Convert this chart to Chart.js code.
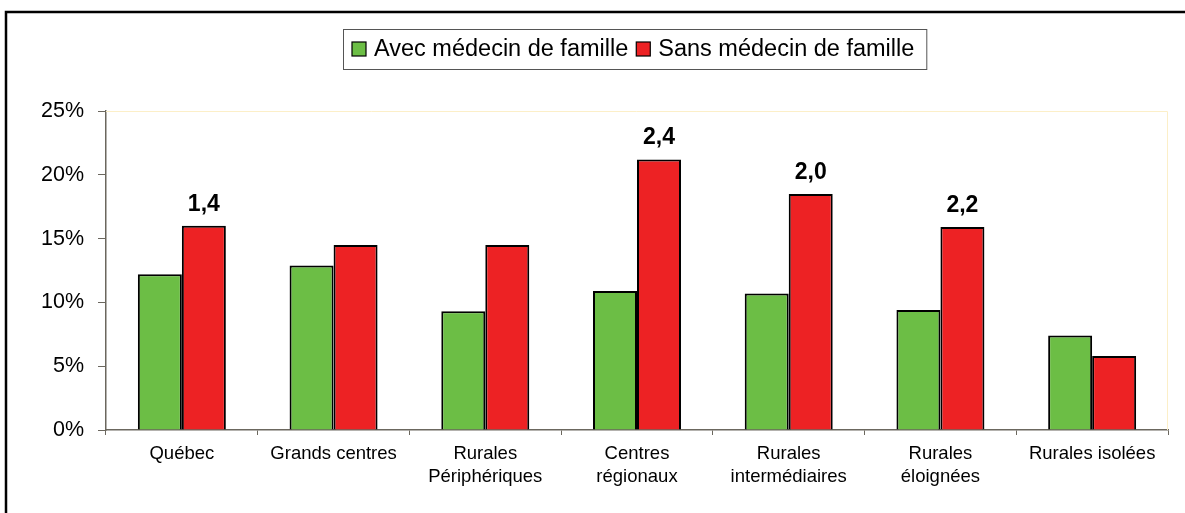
<!DOCTYPE html>
<html>
<head>
<meta charset="utf-8">
<script src="https://cdn.jsdelivr.net/npm/chart.js@4"></script>
<style>
  html, body { margin: 0; padding: 0; background: #fff; }
  #wrap { width: 1185px; height: 513px; }
</style>
</head>
<body>
<div id="wrap"><canvas id="myChart" width="1185" height="513"></canvas></div>
<script>
// categories and values
const categories = [
    'Québec',
    'Grands centres',
    ['Rurales', 'Périphériques'],
    ['Centres', 'régionaux'],
    ['Rurales', 'intermédiaires'],
    ['Rurales', 'éloignées'],
    'Rurales isolées'
];
const avecMedecin = [12.2, 12.9, 9.3, 10.9, 10.7, 9.4, 7.4];
const sansMedecin = [16.0, 14.5, 14.5, 21.2, 18.5, 15.9, 5.8];
const ratioLabels = ['1,4', '', '', '2,4', '2,0', '2,2', ''];
const yTicks = [0, 5, 10, 15, 20, 25];

const greenColor = '#6CBE45';
const redColor = '#ED2224';
const axisColor = '#6B675E';
const font = '"Liberation Sans", Arial, sans-serif';

// frame, plot border, legend and ratio labels
const decorPlugin = {
    id: 'decor',
    beforeDatasetsDraw(chart) {
        const ctx = chart.ctx;
        const a = chart.chartArea;
        ctx.save();
        ctx.strokeStyle = '#FCEFC8';
        ctx.lineWidth = 1;
        ctx.beginPath();
        ctx.moveTo(a.left, a.top + 0.5);
        ctx.lineTo(a.right - 0.5, a.top + 0.5);
        ctx.lineTo(a.right - 0.5, a.bottom);
        ctx.stroke();
        ctx.restore();
    },
    afterDraw(chart) {
        const ctx = chart.ctx;
        ctx.save();
        // outer frame (only left and top visible)
        ctx.strokeStyle = '#000';
        ctx.lineWidth = 2.5;
        ctx.strokeRect(6, 12, 1200, 520);

        // ratio labels above red bars
        const meta = chart.getDatasetMeta(1);
        ctx.fillStyle = '#000';
        ctx.font = 'bold 23px ' + font;
        ctx.textAlign = 'center';
        ctx.textBaseline = 'alphabetic';
        meta.data.forEach((bar, i) => {
            if (ratioLabels[i]) {
                ctx.fillText(ratioLabels[i], bar.x, bar.y - 15);
            }
        });

        // legend with box
        ctx.font = '23.5px ' + font;
        ctx.textAlign = 'left';
        ctx.textBaseline = 'middle';
        const sets = chart.data.datasets;
        const boxLeft = 343, boxTop = 29, boxH = 40;
        let x = boxLeft + 9;
        const cy = boxTop + boxH / 2;
        const items = [];
        sets.forEach(ds => {
            items.push({ x: x, ds: ds });
            x += 14 + 8 + ctx.measureText(ds.label).width + 8;
        });
        const boxRight = x + 4;
        ctx.fillStyle = '#fff';
        ctx.fillRect(boxLeft, boxTop, boxRight - boxLeft, boxH);
        ctx.strokeStyle = '#555';
        ctx.lineWidth = 1;
        ctx.strokeRect(boxLeft + 0.5, boxTop + 0.5, boxRight - boxLeft, boxH);
        items.forEach(it => {
            ctx.fillStyle = it.ds.backgroundColor;
            ctx.fillRect(it.x, cy - 7, 14, 14);
            ctx.strokeStyle = '#000';
            ctx.lineWidth = 1.2;
            ctx.strokeRect(it.x, cy - 7, 14, 14);
            ctx.fillStyle = '#000';
            ctx.fillText(it.ds.label, it.x + 22, cy + 1);
        });
        ctx.restore();
    }
};

const configuration = {
    type: 'bar',
    data: {
        labels: categories,
        datasets: [{
            label: 'Avec médecin de famille',
            data: avecMedecin,
            backgroundColor: greenColor,
            borderColor: '#000',
            borderWidth: 2,
            categoryPercentage: 0.58,
            barPercentage: 1.0
        }, {
            label: 'Sans médecin de famille',
            data: sansMedecin,
            backgroundColor: redColor,
            borderColor: '#000',
            borderWidth: 2,
            categoryPercentage: 0.58,
            barPercentage: 1.0
        }]
    },
    options: {
        responsive: false,
        animation: false,
        layout: {
            padding: { left: 6, right: 17, top: 111, bottom: 0 }
        },
        plugins: {
            legend: { display: false },
            tooltip: { enabled: false }
        },
        scales: {
            x: {
                grid: {
                    display: true,
                    drawOnChartArea: false,
                    drawTicks: true,
                    tickLength: 5,
                    color: axisColor,
                    offset: true
                },
                border: { color: axisColor, width: 1.5 },
                ticks: {
                    color: '#000',
                    font: { family: font, size: 18.5, lineHeight: 1.25 },
                    padding: 7,
                    maxRotation: 0,
                    autoSkip: false
                },
                afterFit: (scale) => { scale.height = 83; }
            },
            y: {
                min: 0,
                max: 25,
                afterBuildTicks: (scale) => {
                    scale.ticks = yTicks.map(v => ({ value: v }));
                },
                grid: {
                    drawOnChartArea: false,
                    drawTicks: true,
                    tickLength: 8,
                    color: axisColor
                },
                border: { color: axisColor, width: 1.5 },
                ticks: {
                    color: '#000',
                    font: { family: font, size: 21.5 },
                    padding: 14,
                    callback: (value) => value + '%'
                },
                afterFit: (scale) => { scale.width = 100; }
            }
        }
    },
    plugins: [decorPlugin]
};

new Chart(document.getElementById('myChart'), configuration);
</script>
</body>
</html>
